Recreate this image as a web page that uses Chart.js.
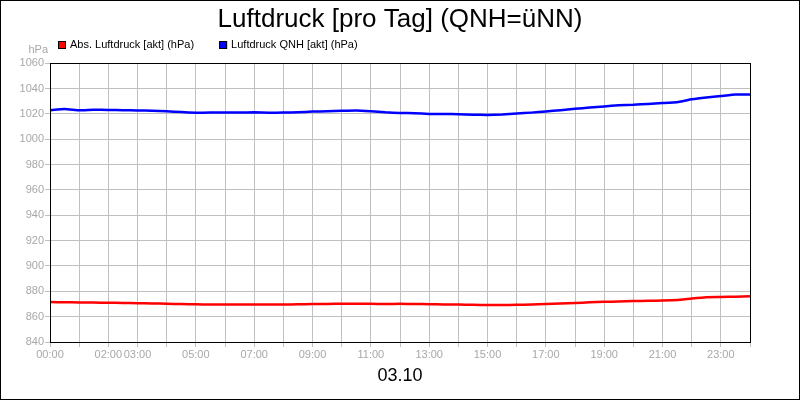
<!DOCTYPE html>
<html>
<head>
<meta charset="utf-8">
<script src="https://cdn.jsdelivr.net/npm/chart.js@4.4.0/dist/chart.umd.min.js"></script>
<style>
  html, body { margin: 0; padding: 0; background: #fff; }
  #wrap { width: 800px; height: 400px; box-sizing: border-box; border: 1px solid #000; }
  canvas { display: block; }
</style>
</head>
<body>
<div id="wrap"><canvas id="pressureChart" width="798" height="398"></canvas></div>
<script>
const hours = [0, 0.5, 1, 1.5, 2, 2.5, 3, 3.5, 4, 4.5, 5, 5.5, 6, 6.5, 7, 7.5, 8, 8.5, 9, 9.5,
  10, 10.5, 11, 11.5, 12, 12.5, 13, 13.5, 14, 14.5, 15, 15.5, 16, 16.5, 17, 17.5, 18, 18.5, 19, 19.5,
  20, 20.5, 21, 21.5, 22, 22.5, 23, 23.5, 24];

const qnhValues = [1022.9, 1023.8, 1022.9, 1023.3, 1023.1, 1022.9, 1022.7, 1022.5, 1022.0, 1021.5,
  1020.9, 1021.0, 1021.1, 1021.0, 1021.2, 1020.9, 1021.0, 1021.3, 1021.8, 1022.1,
  1022.4, 1022.6, 1022.0, 1021.2, 1020.8, 1020.5, 1020.0, 1019.9, 1019.8, 1019.4,
  1019.2, 1019.6, 1020.3, 1021.0, 1021.9, 1022.9, 1024.0, 1025.0, 1025.9, 1026.9,
  1027.2, 1027.9, 1028.5, 1029.2, 1031.5, 1033.0, 1034.1, 1035.3, 1035.3];

const absValues = [871.5, 871.4, 871.2, 871.1, 871.0, 870.8, 870.6, 870.4, 870.2, 869.9,
  869.7, 869.6, 869.6, 869.6, 869.6, 869.6, 869.6, 869.7, 869.9, 870.0,
  870.2, 870.2, 870.1, 870.0, 870.1, 870.0, 869.8, 869.6, 869.5, 869.3,
  869.2, 869.2, 869.3, 869.6, 870.0, 870.4, 870.8, 871.3, 871.7, 872.0,
  872.3, 872.5, 872.7, 873.1, 874.3, 875.3, 875.5, 875.8, 876.2];

// Beschriftete Stunden der x-Achse (wie im Original, 01:00 fehlt)
const tickHours = [0, 2, 3, 5, 7, 9, 11, 13, 15, 17, 19, 21, 23];
const tickLabels = ['00:00', '02:00', '03:00', '05:00', '07:00', '09:00', '11:00',
  '13:00', '15:00', '17:00', '19:00', '21:00', '23:00'];

const yTicks = [840, 860, 880, 900, 920, 940, 960, 980, 1000, 1020, 1040, 1060];

const FONT = "'Liberation Sans', Arial, sans-serif";
const GREY = '#a8a8a8';

// Legende oben links (eigene Zeichnung, damit sie wie im Original sitzt)
const topLegend = {
  id: 'topLegend',
  afterDraw(chart) {
    const ctx = chart.ctx;
    ctx.save();
    ctx.font = '11px ' + FONT;
    ctx.textBaseline = 'middle';
    let x = 57;
    const y = 40;
    chart.data.datasets.forEach(ds => {
      ctx.fillStyle = ds.borderColor;
      ctx.fillRect(x, y, 8, 8);
      ctx.strokeStyle = '#000';
      ctx.lineWidth = 1;
      ctx.strokeRect(x + 0.5, y + 0.5, 7, 7);
      ctx.fillStyle = '#000';
      ctx.fillText(ds.label, x + 12, y + 4);
      x += 12 + ctx.measureText(ds.label).width + 25;
    });
    // Einheit ueber der y-Achse
    ctx.fillStyle = GREY;
    ctx.textAlign = 'right';
    ctx.textBaseline = 'alphabetic';
    ctx.fillText('hPa', 47, 52);
    ctx.restore();
  }
};

// schwarzer Rahmen um die Zeichenflaeche
const plotFrame = {
  id: 'plotFrame',
  afterDraw(chart) {
    const {ctx, chartArea: a} = chart;
    ctx.save();
    ctx.strokeStyle = '#000';
    ctx.lineWidth = 1;
    ctx.strokeRect(Math.round(a.left) + 0.5, Math.round(a.top) + 0.5,
      Math.round(a.right - a.left), Math.round(a.bottom - a.top));
    ctx.restore();
  }
};

const ctx = document.getElementById('pressureChart').getContext('2d');
const pressureChart = new Chart(ctx, {
  type: 'line',
  data: {
    datasets: [
      {
        label: 'Abs. Luftdruck [akt] (hPa)',
        data: hours.map((h, i) => ({ x: h, y: absValues[i] })),
        borderColor: '#ff0000',
        backgroundColor: '#ff0000',
        borderWidth: 2.5,
        pointRadius: 0,
        tension: 0.1
      },
      {
        label: 'Luftdruck QNH [akt] (hPa)',
        data: hours.map((h, i) => ({ x: h, y: qnhValues[i] })),
        borderColor: '#0000ff',
        backgroundColor: '#0000ff',
        borderWidth: 2.5,
        pointRadius: 0,
        tension: 0.1
      }
    ]
  },
  options: {
    responsive: false,
    animation: false,
    devicePixelRatio: 1,
    layout: { padding: 0 },
    plugins: {
      legend: { display: false },
      tooltip: { enabled: false },
      title: {
        display: true,
        text: 'Luftdruck [pro Tag] (QNH=üNN)',
        color: '#000',
        font: { family: FONT, size: 26, weight: 'normal', lineHeight: 1.2 },
        padding: { top: 3, bottom: 28 }
      }
    },
    scales: {
      x: {
        type: 'linear',
        min: 0,
        max: 24,
        afterFit: s => { s.height = 57; },
        afterBuildTicks: s => { s.ticks = hours.filter(h => Number.isInteger(h)).map(h => ({ value: h })); },
        ticks: {
          autoSkip: false,
          maxRotation: 0,
          color: GREY,
          padding: 1,
          font: { family: FONT, size: 11 },
          callback: v => {
            const i = tickHours.indexOf(v);
            return i >= 0 ? tickLabels[i] : '';
          }
        },
        grid: { color: '#c0c0c0', tickColor: '#c0c0c0', tickLength: 5 },
        border: { color: '#000', width: 1 },
        title: {
          display: true,
          text: '03.10',
          color: '#000',
          font: { family: FONT, size: 18, lineHeight: 1.2 },
          padding: { top: 0, bottom: 12 }
        }
      },
      y: {
        min: 840,
        max: 1060,
        afterFit: s => { s.width = 49; },
        afterBuildTicks: s => { s.ticks = yTicks.map(v => ({ value: v })); },
        ticks: {
          color: GREY,
          padding: 1,
          font: { family: FONT, size: 11 },
          callback: v => String(v)
        },
        grid: { color: '#c0c0c0', tickColor: '#c0c0c0', tickLength: 5 },
        border: { color: '#000', width: 1 }
      },
      // leere rechte Achse, nur als Rand, damit der Titel mittig bleibt
      yRight: {
        position: 'right',
        min: 840,
        max: 1060,
        afterFit: s => { s.width = 49; },
        ticks: { display: false },
        grid: { display: false, drawTicks: false },
        border: { display: false }
      }
    }
  },
  plugins: [topLegend, plotFrame]
});
</script>
</body>
</html>
